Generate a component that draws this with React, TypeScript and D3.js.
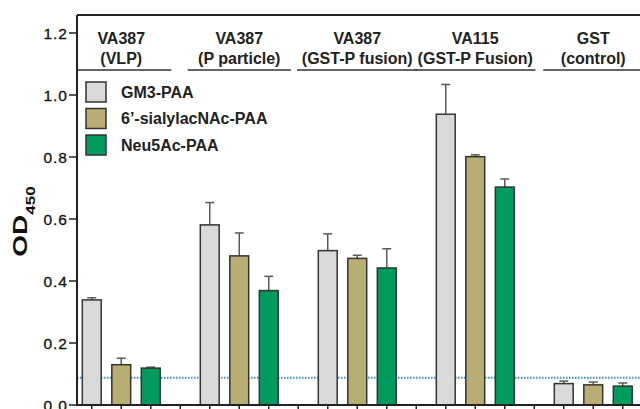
import React from 'react';
import * as d3 from 'd3';

// groups shown along the top
const groupLine1 = ['VA387', 'VA387', 'VA387', 'VA115', 'GST'];
const groupLine2 = ['(VLP)', '(P particle)', '(GST-P fusion)', '(GST-P Fusion)', '(control)'];

const seriesNames = ['GM3-PAA', '6\u2019-sialylacNAc-PAA', 'Neu5Ac-PAA'];
const seriesColors = ['#d9d9d9', '#b8ad72', '#009b5d'];

// OD450 means, one array per series (one value per group)
const gm3Values = [0.339, 0.581, 0.498, 0.938, 0.069];
const sialylValues = [0.130, 0.481, 0.473, 0.801, 0.065];
const neu5acValues = [0.119, 0.369, 0.442, 0.703, 0.061];

// top of error bar (mean + sd)
const gm3Err = [0.346, 0.653, 0.552, 1.034, 0.077];
const sialylErr = [0.151, 0.555, 0.483, 0.807, 0.074];
const neu5acErr = [0.122, 0.415, 0.504, 0.729, 0.071];

const yTicks = [0, 0.2, 0.4, 0.6, 0.8, 1.0, 1.2];
const cutoff = 0.088;

const W = 640, H = 409;

export default function App() {
    const values = [gm3Values, sialylValues, neu5acValues];
    const errs = [gm3Err, sialylErr, neu5acErr];

    const slots = d3.range(groupLine1.length * 4 - 1);
    const x = d3.scaleBand<number>().domain(slots).range([77, 637.5]).padding(0);
    const y = d3.scaleLinear().domain([0, 1.2]).range([405, 33]);
    const bw = x.bandwidth() * 0.64;
    const mid = (i: number) => (x(i) as number) + x.bandwidth() / 2;

    const bars = [];
    values.forEach((arr, s) => {
        arr.forEach((v, g) => {
            const slot = g * 4 + s;
            const cx = mid(slot);
            bars.push(
                <g key={`b${s}-${g}`}>
                    <line x1={cx} x2={cx} y1={y(v)} y2={y(errs[s][g])} stroke="#5a5a5a" strokeWidth={1.5} />
                    <line x1={cx - 4.5} x2={cx + 4.5} y1={y(errs[s][g])} y2={y(errs[s][g])} stroke="#5a5a5a" strokeWidth={1.5} />
                    <rect x={cx - bw / 2} y={y(v)} width={bw} height={y(0) - y(v)}
                        fill={seriesColors[s]} stroke="#333" strokeWidth={1.5} />
                </g>
            );
        });
    });

    const font = 'Liberation Sans, Arial, sans-serif';

    return (
        <svg width={W} height={H} style={{ position: 'absolute', left: 0, top: 0, background: '#fff' }}
            fontFamily={font}>
            <defs>
                <clipPath id="plot"><rect x={77} y={0} width={W - 77} height={H} /></clipPath>
            </defs>

            {/* frame top */}
            <line x1={77} x2={W} y1={y(1.258)} y2={y(1.258)} stroke="#222" strokeWidth={2} />

            {/* group headers */}
            <g clipPath="url(#plot)">
                {groupLine1.map((t, g) => {
                    const cx = mid(g * 4 + 1);
                    const half = Math.max(50, groupLine2[g].length * 4.3);
                    return (
                        <g key={'h' + g}>
                            <text x={cx} y={44} textAnchor="middle" fontSize={16} fontWeight="bold" fill="#222">{t}</text>
                            <text x={cx} y={63.5} textAnchor="middle" fontSize={16} fontWeight="bold" fill="#222">{groupLine2[g]}</text>
                            <line x1={cx - half} x2={cx + half} y1={70} y2={70} stroke="#333" strokeWidth={1.5} />
                        </g>
                    );
                })}
            </g>

            {/* legend */}
            {seriesNames.map((n, s) => (
                <g key={'l' + s} transform={`translate(86,${82 + s * 26.5})`}>
                    <rect width={20} height={20} fill={seriesColors[s]} stroke="#333" strokeWidth={1.5} />
                    <text x={35} y={15.5} fontSize={16} fontWeight="bold" fill="#222">{n}</text>
                </g>
            ))}

            {/* cutoff line */}
            <line x1={77} x2={W} y1={y(cutoff)} y2={y(cutoff)} stroke="#3b8fd0" strokeWidth={2} strokeDasharray="1.5,1.5" />

            {bars}

            {/* y axis */}
            <line x1={77} x2={77} y1={y(1.258)} y2={y(0)} stroke="#222" strokeWidth={2} />
            {yTicks.map(t => (
                <g key={'y' + t}>
                    <line x1={69} x2={77} y1={y(t)} y2={y(t)} stroke="#222" strokeWidth={1.5} />
                    <text x={68} y={y(t)} dy="0.36em" textAnchor="end" fontSize={15.5} letterSpacing={1}
                        fill="#111" stroke="#111" strokeWidth={0.3}>{t.toFixed(1)}</text>
                </g>
            ))}

            {/* x axis */}
            <line x1={76} x2={W} y1={y(0)} y2={y(0)} stroke="#222" strokeWidth={2} />
            {slots.map(i => (
                <line key={'x' + i} x1={mid(i)} x2={mid(i)} y1={y(0)} y2={y(0) + 6} stroke="#222" strokeWidth={1.5} />
            ))}

            {/* y title */}
            <text transform="translate(27,221.5) rotate(-90) scale(1,0.75)" textAnchor="middle" fontSize={28} fontWeight="bold" fill="#111">
                OD<tspan fontSize={17} dy={10.5}>450</tspan>
            </text>
        </svg>
    );
}
